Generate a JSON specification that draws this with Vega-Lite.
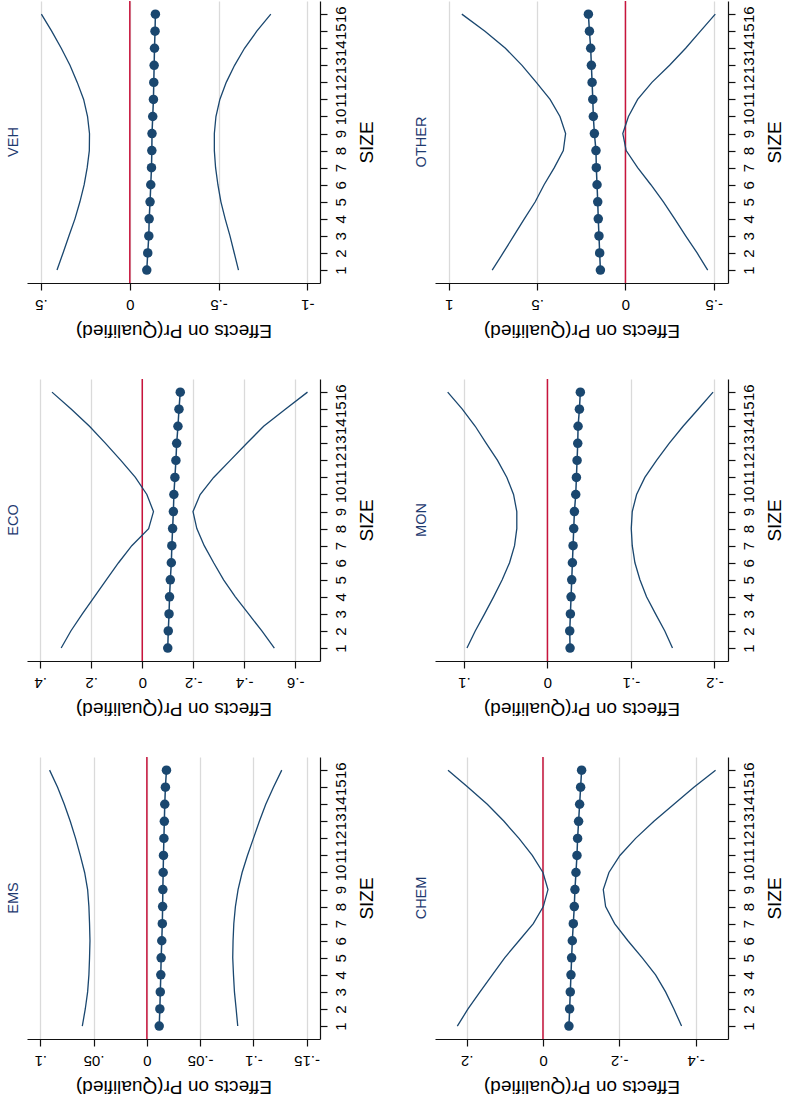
{
  "$schema": "https://vega.github.io/schema/vega-lite/v6.json",
  "padding": {"left": 5, "top": 0, "right": 0, "bottom": 12},
  "background": "white",
  "columns": 2,
  "bounds": "flush",
  "spacing": {"row": 96, "column": 115},
  "config": {
    "view": {"stroke": null},
    "font": "Liberation Sans",
    "axis": {
      "domainColor": "#111111", "domainWidth": 1.2,
      "tickColor": "#111111", "tickWidth": 1.2, "tickSize": 7,
      "labelFont": "Liberation Sans", "labelFontSize": 15, "labelColor": "#000000",
      "titleFont": "Liberation Sans", "titleFontSize": 19, "titleFontWeight": "normal", "titleColor": "#000000",
      "gridColor": "#dadada", "gridWidth": 1.3,
      "labelPadding": 6, "titlePadding": 9, "labelOverlap": false, "labelFlush": false
    },
    "axisX": {"titleBaseline": "bottom"},
    "axisY": {"titleBaseline": "top"},
    "title": {"orient": "left", "anchor": "middle", "font": "Liberation Sans", "fontSize": 14.5, "fontWeight": "normal", "color": "#1e3a70", "offset": 6}
  },
  "datasets": {
    "effects": [
      {"panel":"VEH","size":1,"est":-0.0955,"lo":-0.612,"hi":0.410},
      {"panel":"VEH","size":2,"est":-0.101,"lo":-0.588,"hi":0.376},
      {"panel":"VEH","size":3,"est":-0.107,"lo":-0.564,"hi":0.343},
      {"panel":"VEH","size":4,"est":-0.109,"lo":-0.537,"hi":0.309},
      {"panel":"VEH","size":5,"est":-0.114,"lo":-0.513,"hi":0.281},
      {"panel":"VEH","size":6,"est":-0.118,"lo":-0.496,"hi":0.257},
      {"panel":"VEH","size":7,"est":-0.122,"lo":-0.483,"hi":0.240},
      {"panel":"VEH","size":8,"est":-0.124,"lo":-0.476,"hi":0.228},
      {"panel":"VEH","size":9,"est":-0.125,"lo":-0.476,"hi":0.227},
      {"panel":"VEH","size":10,"est":-0.129,"lo":-0.485,"hi":0.238},
      {"panel":"VEH","size":11,"est":-0.133,"lo":-0.507,"hi":0.260},
      {"panel":"VEH","size":12,"est":-0.135,"lo":-0.543,"hi":0.296},
      {"panel":"VEH","size":13,"est":-0.137,"lo":-0.590,"hi":0.337},
      {"panel":"VEH","size":14,"est":-0.139,"lo":-0.646,"hi":0.386},
      {"panel":"VEH","size":15,"est":-0.142,"lo":-0.715,"hi":0.440},
      {"panel":"VEH","size":16,"est":-0.144,"lo":-0.794,"hi":0.498},
      {"panel":"OTHER","size":1,"est":0.142,"lo":-0.466,"hi":0.755},
      {"panel":"OTHER","size":2,"est":0.146,"lo":-0.406,"hi":0.693},
      {"panel":"OTHER","size":3,"est":0.150,"lo":-0.341,"hi":0.633},
      {"panel":"OTHER","size":4,"est":0.154,"lo":-0.279,"hi":0.573},
      {"panel":"OTHER","size":5,"est":0.157,"lo":-0.215,"hi":0.511},
      {"panel":"OTHER","size":6,"est":0.161,"lo":-0.144,"hi":0.461},
      {"panel":"OTHER","size":7,"est":0.165,"lo":-0.069,"hi":0.403},
      {"panel":"OTHER","size":8,"est":0.167,"lo":-0.004,"hi":0.352},
      {"panel":"OTHER","size":9,"est":0.176,"lo":0.015,"hi":0.339},
      {"panel":"OTHER","size":10,"est":0.182,"lo":-0.017,"hi":0.371},
      {"panel":"OTHER","size":11,"est":0.185,"lo":-0.069,"hi":0.427},
      {"panel":"OTHER","size":12,"est":0.189,"lo":-0.150,"hi":0.505},
      {"panel":"OTHER","size":13,"est":0.193,"lo":-0.250,"hi":0.586},
      {"panel":"OTHER","size":14,"est":0.197,"lo":-0.341,"hi":0.680},
      {"panel":"OTHER","size":15,"est":0.204,"lo":-0.425,"hi":0.796},
      {"panel":"OTHER","size":16,"est":0.210,"lo":-0.509,"hi":0.927},
      {"panel":"ECO","size":1,"est":-0.100,"lo":-0.518,"hi":0.318},
      {"panel":"ECO","size":2,"est":-0.102,"lo":-0.469,"hi":0.280},
      {"panel":"ECO","size":3,"est":-0.105,"lo":-0.417,"hi":0.235},
      {"panel":"ECO","size":4,"est":-0.107,"lo":-0.365,"hi":0.188},
      {"panel":"ECO","size":5,"est":-0.110,"lo":-0.319,"hi":0.141},
      {"panel":"ECO","size":6,"est":-0.114,"lo":-0.280,"hi":0.093},
      {"panel":"ECO","size":7,"est":-0.116,"lo":-0.243,"hi":0.041},
      {"panel":"ECO","size":8,"est":-0.119,"lo":-0.214,"hi":-0.025},
      {"panel":"ECO","size":9,"est":-0.122,"lo":-0.199,"hi":-0.044},
      {"panel":"ECO","size":10,"est":-0.124,"lo":-0.227,"hi":-0.018},
      {"panel":"ECO","size":11,"est":-0.128,"lo":-0.280,"hi":0.027},
      {"panel":"ECO","size":12,"est":-0.132,"lo":-0.345,"hi":0.084},
      {"panel":"ECO","size":13,"est":-0.135,"lo":-0.410,"hi":0.144},
      {"panel":"ECO","size":14,"est":-0.140,"lo":-0.476,"hi":0.207},
      {"panel":"ECO","size":15,"est":-0.144,"lo":-0.561,"hi":0.278},
      {"panel":"ECO","size":16,"est":-0.149,"lo":-0.648,"hi":0.354},
      {"panel":"MON","size":1,"est":-0.0271,"lo":-0.1498,"hi":0.0964},
      {"panel":"MON","size":2,"est":-0.0267,"lo":-0.1406,"hi":0.0865},
      {"panel":"MON","size":3,"est":-0.0275,"lo":-0.1295,"hi":0.0753},
      {"panel":"MON","size":4,"est":-0.0283,"lo":-0.1187,"hi":0.0645},
      {"panel":"MON","size":5,"est":-0.0291,"lo":-0.1108,"hi":0.0542},
      {"panel":"MON","size":6,"est":-0.0299,"lo":-0.1048,"hi":0.0454},
      {"panel":"MON","size":7,"est":-0.0307,"lo":-0.1016,"hi":0.0394},
      {"panel":"MON","size":8,"est":-0.0315,"lo":-0.1004,"hi":0.0367},
      {"panel":"MON","size":9,"est":-0.0323,"lo":-0.1016,"hi":0.0367},
      {"panel":"MON","size":10,"est":-0.0339,"lo":-0.1068,"hi":0.0406},
      {"panel":"MON","size":11,"est":-0.0347,"lo":-0.1167,"hi":0.0486},
      {"panel":"MON","size":12,"est":-0.0355,"lo":-0.1307,"hi":0.0598},
      {"panel":"MON","size":13,"est":-0.0363,"lo":-0.1458,"hi":0.0733},
      {"panel":"MON","size":14,"est":-0.0367,"lo":-0.1625,"hi":0.0865},
      {"panel":"MON","size":15,"est":-0.0383,"lo":-0.1805,"hi":0.1020},
      {"panel":"MON","size":16,"est":-0.0394,"lo":-0.1984,"hi":0.1195},
      {"panel":"EMS","size":1,"est":-0.0116,"lo":-0.0853,"hi":0.0606},
      {"panel":"EMS","size":2,"est":-0.0122,"lo":-0.0838,"hi":0.0578},
      {"panel":"EMS","size":3,"est":-0.0126,"lo":-0.0822,"hi":0.0556},
      {"panel":"EMS","size":4,"est":-0.0131,"lo":-0.0813,"hi":0.0544},
      {"panel":"EMS","size":5,"est":-0.0134,"lo":-0.0806,"hi":0.0538},
      {"panel":"EMS","size":6,"est":-0.0140,"lo":-0.0809,"hi":0.0534},
      {"panel":"EMS","size":7,"est":-0.0145,"lo":-0.0816,"hi":0.0538},
      {"panel":"EMS","size":8,"est":-0.0148,"lo":-0.0831,"hi":0.0544},
      {"panel":"EMS","size":9,"est":-0.0150,"lo":-0.0856,"hi":0.0556},
      {"panel":"EMS","size":10,"est":-0.0153,"lo":-0.0894,"hi":0.0584},
      {"panel":"EMS","size":11,"est":-0.0156,"lo":-0.0944,"hi":0.0625},
      {"panel":"EMS","size":12,"est":-0.0160,"lo":-0.1000,"hi":0.0669},
      {"panel":"EMS","size":13,"est":-0.0164,"lo":-0.1056,"hi":0.0719},
      {"panel":"EMS","size":14,"est":-0.0168,"lo":-0.1116,"hi":0.0775},
      {"panel":"EMS","size":15,"est":-0.0174,"lo":-0.1188,"hi":0.0838},
      {"panel":"EMS","size":16,"est":-0.0184,"lo":-0.1266,"hi":0.0913},
      {"panel":"CHEM","size":1,"est":-0.0681,"lo":-0.3633,"hi":0.2245},
      {"panel":"CHEM","size":2,"est":-0.0699,"lo":-0.3432,"hi":0.1965},
      {"panel":"CHEM","size":3,"est":-0.0716,"lo":-0.3214,"hi":0.1650},
      {"panel":"CHEM","size":4,"est":-0.0734,"lo":-0.2952,"hi":0.1328},
      {"panel":"CHEM","size":5,"est":-0.0751,"lo":-0.2603,"hi":0.1004},
      {"panel":"CHEM","size":6,"est":-0.0769,"lo":-0.2227,"hi":0.0629},
      {"panel":"CHEM","size":7,"est":-0.0795,"lo":-0.1878,"hi":0.0253},
      {"panel":"CHEM","size":8,"est":-0.0821,"lo":-0.1642,"hi":-0.0009},
      {"panel":"CHEM","size":9,"est":-0.0838,"lo":-0.1581,"hi":-0.0131},
      {"panel":"CHEM","size":10,"est":-0.0865,"lo":-0.1729,"hi":0.0000},
      {"panel":"CHEM","size":11,"est":-0.0891,"lo":-0.2017,"hi":0.0280},
      {"panel":"CHEM","size":12,"est":-0.0908,"lo":-0.2428,"hi":0.0629},
      {"panel":"CHEM","size":13,"est":-0.0934,"lo":-0.2908,"hi":0.1022},
      {"panel":"CHEM","size":14,"est":-0.0961,"lo":-0.3432,"hi":0.1459},
      {"panel":"CHEM","size":15,"est":-0.0987,"lo":-0.3956,"hi":0.1965},
      {"panel":"CHEM","size":16,"est":-0.1013,"lo":-0.4524,"hi":0.2489}
    ]
  },
  "concat": [
    {
      "width": 293, "height": 282,
      "title": {"text": "VEH"},
      "layer": [
        {"data": {"values": [{}]}, "mark": {"type": "rule", "color": "#c8143c", "strokeWidth": 1.5}, "encoding": {"x": {"datum": 0, "type": "quantitative"}}},
        {
          "data": {"name": "effects"},
          "transform": [{"filter": "datum.panel === 'VEH'"}, {"fold": ["lo", "hi", "est"], "as": ["series", "value"]}],
          "encoding": {
            "x": {"field": "value", "type": "quantitative", "scale": {"domain": [-1.071, 0.579], "reverse": true, "nice": false, "zero": false},
                  "axis": {"values": [-1, -0.5, 0, 0.5], "labelExpr": "(datum.value < 0 ? '-' : '') + replace(format(abs(datum.value), '~g'), '0.', '.')", "labelAngle": 180, "title": "Effects on Pr(Qualified)", "titleAngle": 180, "grid": true}},
            "y": {"field": "size", "type": "quantitative", "scale": {"domain": [0.24, 16.77], "nice": false, "zero": false},
                  "axis": {"orient": "right", "values": [1,2,3,4,5,6,7,8,9,10,11,12,13,14,15,16], "labelAngle": 270, "title": "SIZE", "titleAngle": 270, "grid": false}},
            "order": {"field": "size", "type": "quantitative"}
          },
          "layer": [
            {"transform": [{"filter": "datum.series !== 'est'"}], "mark": {"type": "line", "color": "#1a476f", "strokeWidth": 1.3}, "encoding": {"detail": {"field": "series"}}},
            {"transform": [{"filter": "datum.series === 'est'"}], "mark": {"type": "line", "color": "#1a476f", "strokeWidth": 1.5, "point": {"filled": true, "size": 90, "color": "#1a476f", "opacity": 1}}}
          ]
        }
      ]
    },
    {
      "width": 293, "height": 282,
      "title": {"text": "OTHER"},
      "layer": [
        {"data": {"values": [{}]}, "mark": {"type": "rule", "color": "#c8143c", "strokeWidth": 1.5}, "encoding": {"x": {"datum": 0, "type": "quantitative"}}},
        {
          "data": {"name": "effects"},
          "transform": [{"filter": "datum.panel === 'OTHER'"}, {"fold": ["lo", "hi", "est"], "as": ["series", "value"]}],
          "encoding": {
            "x": {"field": "value", "type": "quantitative", "scale": {"domain": [-0.581, 1.079], "reverse": true, "nice": false, "zero": false},
                  "axis": {"values": [-0.5, 0, 0.5, 1], "labelExpr": "(datum.value < 0 ? '-' : '') + replace(format(abs(datum.value), '~g'), '0.', '.')", "labelAngle": 180, "title": "Effects on Pr(Qualified)", "titleAngle": 180, "grid": true}},
            "y": {"field": "size", "type": "quantitative", "scale": {"domain": [0.24, 16.77], "nice": false, "zero": false},
                  "axis": {"orient": "right", "values": [1,2,3,4,5,6,7,8,9,10,11,12,13,14,15,16], "labelAngle": 270, "title": "SIZE", "titleAngle": 270, "grid": false}},
            "order": {"field": "size", "type": "quantitative"}
          },
          "layer": [
            {"transform": [{"filter": "datum.series !== 'est'"}], "mark": {"type": "line", "color": "#1a476f", "strokeWidth": 1.3}, "encoding": {"detail": {"field": "series"}}},
            {"transform": [{"filter": "datum.series === 'est'"}], "mark": {"type": "line", "color": "#1a476f", "strokeWidth": 1.5, "point": {"filled": true, "size": 90, "color": "#1a476f", "opacity": 1}}}
          ]
        }
      ]
    },
    {
      "width": 293, "height": 282,
      "title": {"text": "ECO"},
      "layer": [
        {"data": {"values": [{}]}, "mark": {"type": "rule", "color": "#c8143c", "strokeWidth": 1.5}, "encoding": {"x": {"datum": 0, "type": "quantitative"}}},
        {
          "data": {"name": "effects"},
          "transform": [{"filter": "datum.panel === 'ECO'"}, {"fold": ["lo", "hi", "est"], "as": ["series", "value"]}],
          "encoding": {
            "x": {"field": "value", "type": "quantitative", "scale": {"domain": [-0.697, 0.452], "reverse": true, "nice": false, "zero": false},
                  "axis": {"values": [-0.6, -0.4, -0.2, 0, 0.2, 0.4], "labelExpr": "(datum.value < 0 ? '-' : '') + replace(format(abs(datum.value), '~g'), '0.', '.')", "labelAngle": 180, "title": "Effects on Pr(Qualified)", "titleAngle": 180, "grid": true}},
            "y": {"field": "size", "type": "quantitative", "scale": {"domain": [0.24, 16.77], "nice": false, "zero": false},
                  "axis": {"orient": "right", "values": [1,2,3,4,5,6,7,8,9,10,11,12,13,14,15,16], "labelAngle": 270, "title": "SIZE", "titleAngle": 270, "grid": false}},
            "order": {"field": "size", "type": "quantitative"}
          },
          "layer": [
            {"transform": [{"filter": "datum.series !== 'est'"}], "mark": {"type": "line", "color": "#1a476f", "strokeWidth": 1.3}, "encoding": {"detail": {"field": "series"}}},
            {"transform": [{"filter": "datum.series === 'est'"}], "mark": {"type": "line", "color": "#1a476f", "strokeWidth": 1.5, "point": {"filled": true, "size": 90, "color": "#1a476f", "opacity": 1}}}
          ]
        }
      ]
    },
    {
      "width": 293, "height": 282,
      "title": {"text": "MON"},
      "layer": [
        {"data": {"values": [{}]}, "mark": {"type": "rule", "color": "#c8143c", "strokeWidth": 1.5}, "encoding": {"x": {"datum": 0, "type": "quantitative"}}},
        {
          "data": {"name": "effects"},
          "transform": [{"filter": "datum.panel === 'MON'"}, {"fold": ["lo", "hi", "est"], "as": ["series", "value"]}],
          "encoding": {
            "x": {"field": "value", "type": "quantitative", "scale": {"domain": [-0.2163, 0.1347], "reverse": true, "nice": false, "zero": false},
                  "axis": {"values": [-0.2, -0.1, 0, 0.1], "labelExpr": "(datum.value < 0 ? '-' : '') + replace(format(abs(datum.value), '~g'), '0.', '.')", "labelAngle": 180, "title": "Effects on Pr(Qualified)", "titleAngle": 180, "grid": true}},
            "y": {"field": "size", "type": "quantitative", "scale": {"domain": [0.24, 16.77], "nice": false, "zero": false},
                  "axis": {"orient": "right", "values": [1,2,3,4,5,6,7,8,9,10,11,12,13,14,15,16], "labelAngle": 270, "title": "SIZE", "titleAngle": 270, "grid": false}},
            "order": {"field": "size", "type": "quantitative"}
          },
          "layer": [
            {"transform": [{"filter": "datum.series !== 'est'"}], "mark": {"type": "line", "color": "#1a476f", "strokeWidth": 1.3}, "encoding": {"detail": {"field": "series"}}},
            {"transform": [{"filter": "datum.series === 'est'"}], "mark": {"type": "line", "color": "#1a476f", "strokeWidth": 1.5, "point": {"filled": true, "size": 90, "color": "#1a476f", "opacity": 1}}}
          ]
        }
      ]
    },
    {
      "width": 293, "height": 282,
      "title": {"text": "EMS"},
      "layer": [
        {"data": {"values": [{}]}, "mark": {"type": "rule", "color": "#c8143c", "strokeWidth": 1.5}, "encoding": {"x": {"datum": 0, "type": "quantitative"}}},
        {
          "data": {"name": "effects"},
          "transform": [{"filter": "datum.panel === 'EMS'"}, {"fold": ["lo", "hi", "est"], "as": ["series", "value"]}],
          "encoding": {
            "x": {"field": "value", "type": "quantitative", "scale": {"domain": [-0.1625, 0.1125], "reverse": true, "nice": false, "zero": false},
                  "axis": {"values": [-0.15, -0.1, -0.05, 0, 0.05, 0.1], "labelExpr": "(datum.value < 0 ? '-' : '') + replace(format(abs(datum.value), '~g'), '0.', '.')", "labelAngle": 180, "title": "Effects on Pr(Qualified)", "titleAngle": 180, "grid": true}},
            "y": {"field": "size", "type": "quantitative", "scale": {"domain": [0.24, 16.77], "nice": false, "zero": false},
                  "axis": {"orient": "right", "values": [1,2,3,4,5,6,7,8,9,10,11,12,13,14,15,16], "labelAngle": 270, "title": "SIZE", "titleAngle": 270, "grid": false}},
            "order": {"field": "size", "type": "quantitative"}
          },
          "layer": [
            {"transform": [{"filter": "datum.series !== 'est'"}], "mark": {"type": "line", "color": "#1a476f", "strokeWidth": 1.3}, "encoding": {"detail": {"field": "series"}}},
            {"transform": [{"filter": "datum.series === 'est'"}], "mark": {"type": "line", "color": "#1a476f", "strokeWidth": 1.5, "point": {"filled": true, "size": 90, "color": "#1a476f", "opacity": 1}}}
          ]
        }
      ]
    },
    {
      "width": 293, "height": 282,
      "title": {"text": "CHEM"},
      "layer": [
        {"data": {"values": [{}]}, "mark": {"type": "rule", "color": "#c8143c", "strokeWidth": 1.5}, "encoding": {"x": {"datum": 0, "type": "quantitative"}}},
        {
          "data": {"name": "effects"},
          "transform": [{"filter": "datum.panel === 'CHEM'"}, {"fold": ["lo", "hi", "est"], "as": ["series", "value"]}],
          "encoding": {
            "x": {"field": "value", "type": "quantitative", "scale": {"domain": [-0.485, 0.283], "reverse": true, "nice": false, "zero": false},
                  "axis": {"values": [-0.4, -0.2, 0, 0.2], "labelExpr": "(datum.value < 0 ? '-' : '') + replace(format(abs(datum.value), '~g'), '0.', '.')", "labelAngle": 180, "title": "Effects on Pr(Qualified)", "titleAngle": 180, "grid": true}},
            "y": {"field": "size", "type": "quantitative", "scale": {"domain": [0.24, 16.77], "nice": false, "zero": false},
                  "axis": {"orient": "right", "values": [1,2,3,4,5,6,7,8,9,10,11,12,13,14,15,16], "labelAngle": 270, "title": "SIZE", "titleAngle": 270, "grid": false}},
            "order": {"field": "size", "type": "quantitative"}
          },
          "layer": [
            {"transform": [{"filter": "datum.series !== 'est'"}], "mark": {"type": "line", "color": "#1a476f", "strokeWidth": 1.3}, "encoding": {"detail": {"field": "series"}}},
            {"transform": [{"filter": "datum.series === 'est'"}], "mark": {"type": "line", "color": "#1a476f", "strokeWidth": 1.5, "point": {"filled": true, "size": 90, "color": "#1a476f", "opacity": 1}}}
          ]
        }
      ]
    }
  ]
}
